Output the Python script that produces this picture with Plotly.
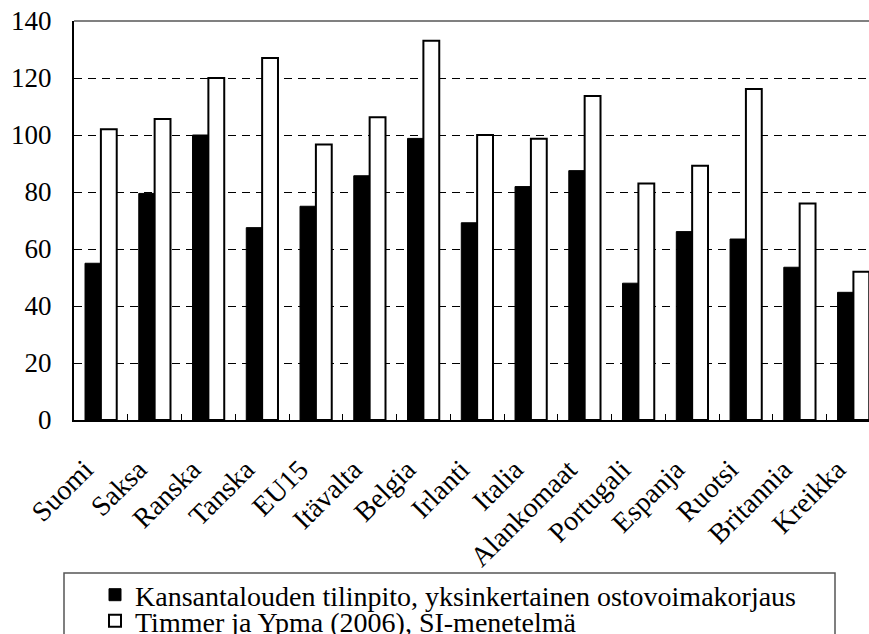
import plotly.graph_objects as go

categories = ["Suomi", "Saksa", "Ranska", "Tanska", "EU15", "Itävalta", "Belgia",
              "Irlanti", "Italia", "Alankomaat", "Portugali", "Espanja", "Ruotsi",
              "Britannia", "Kreikka"]
national_accounts = [55.0, 79.5, 100.0, 67.5, 75.0, 85.7, 98.8, 69.2, 81.9, 87.5,
                     48.0, 66.1, 63.5, 53.6, 44.8]
timmer_ypma = [102.0, 105.6, 120.0, 127.0, 96.7, 106.2, 133.1, 100.0, 98.7, 113.7,
               83.0, 89.2, 116.1, 76.0, 52.0]
series_names = ["Kansantalouden tilinpito, yksinkertainen ostovoimakorjaus",
                "Timmer ja Ypma (2006), SI-menetelmä"]
y_ticks = [0, 20, 40, 60, 80, 100, 120, 140]

FONT = "Liberation Serif"
W, H = 869, 634
ML, MT, MB, MR = 74, 21, 214, 0
PW = W - ML - MR
PH = H - MT - MB


def px_x(px):
    return (px - ML) / PW


def px_y(py):
    return (H - MB - py) / PH


fig = go.Figure()
fig.add_trace(go.Bar(
    x=categories, y=national_accounts, name=series_names[0],
    marker=dict(color="black", line=dict(color="black", width=1)),
    legend="legend",
))
fig.add_trace(go.Bar(
    x=categories, y=timmer_ypma, name=series_names[1],
    marker=dict(color="white", line=dict(color="black", width=2)),
    legend="legend2",
))

fig.update_layout(
    width=W, height=H,
    margin=dict(l=ML, r=MR, t=MT, b=MB, autoexpand=False),
    paper_bgcolor="white", plot_bgcolor="white",
    barmode="group", bargap=0.41, bargroupgap=0,
    font=dict(family=FONT, color="black"),
    showlegend=True,
    legend=dict(x=px_x(95), y=px_y(595), xanchor="left", yanchor="middle",
                font=dict(family=FONT, size=28, color="black"),
                bgcolor="rgba(0,0,0,0)", borderwidth=0),
    legend2=dict(x=px_x(95), y=px_y(621), xanchor="left", yanchor="middle",
                 font=dict(family=FONT, size=28, color="black"),
                 bgcolor="rgba(0,0,0,0)", borderwidth=0),
    xaxis=dict(
        type="category", range=[-0.5, 14.29],
        showline=True, linecolor="black", linewidth=2,
        ticks="inside", tickson="boundaries", ticklen=6, tickcolor="black", tickwidth=1,
        tickangle=-45, tickfont=dict(family=FONT, size=28, color="black"),
        ticklabelshift=-16, ticklabelstandoff=20,
        showgrid=False,
    ),
    yaxis=dict(
        range=[0, 140], tickvals=y_ticks,
        showline=True, linecolor="black", linewidth=2,
        ticks="", ticklabelstandoff=15,
        tickfont=dict(family=FONT, size=27, color="black"),
        showgrid=True, gridcolor="black", gridwidth=1, griddash="8px,6px",
        zeroline=False,
    ),
    shapes=[
        dict(type="line", xref="paper", yref="paper", x0=0, x1=1, y0=1, y1=1,
             line=dict(color="#808080", width=2)),
        dict(type="rect", xref="paper", yref="paper",
             x0=px_x(64), x1=px_x(835), y0=px_y(573), y1=px_y(660),
             line=dict(color="#555555", width=1.5), fillcolor="rgba(0,0,0,0)"),
    ],
)

fig.write_html("out.html",
               config={"displayModeBar": False},
               post_script="document.body.style.margin='0';document.body.style.overflow='hidden';")
